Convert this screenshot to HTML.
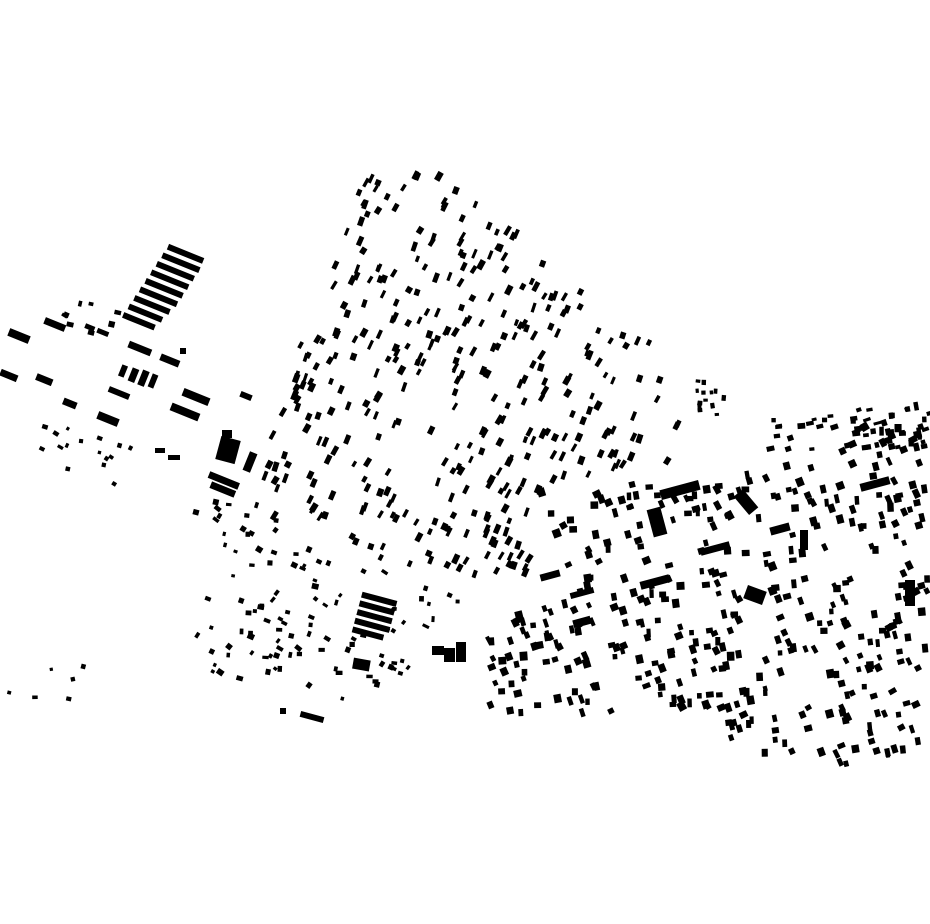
<!DOCTYPE html>
<html><head><meta charset="utf-8"><style>html,body{margin:0;padding:0;background:#fff}svg{display:block}</style></head>
<body>
<svg id="s" width="930" height="924" viewBox="0 0 930 924" xmlns="http://www.w3.org/2000/svg">
<g fill="#000">
<!-- big bar stack NW -->
<g transform="rotate(22 170 295)">
<rect x="150" y="248" width="38" height="6"/><rect x="148" y="258" width="40" height="6"/><rect x="146" y="268" width="40" height="6"/><rect x="144" y="278" width="40" height="6"/><rect x="142" y="288" width="40" height="6"/><rect x="140" y="298" width="40" height="6"/><rect x="138" y="308" width="38" height="6"/><rect x="136" y="318" width="36" height="6"/><rect x="134" y="328" width="34" height="6"/>
</g>
<rect x="8" y="332" width="22" height="8" transform="rotate(22 19 336)"/>
<rect x="44" y="321" width="22" height="7" transform="rotate(22 55 324)"/>
<rect x="85" y="325" width="10" height="5" transform="rotate(22 90 327)"/>
<rect x="97" y="330" width="12" height="5" transform="rotate(22 103 332)"/>
<rect x="0" y="372" width="18" height="7" transform="rotate(22 9 375)"/>
<rect x="36" y="376" width="17" height="7" transform="rotate(22 44 379)"/>
<rect x="63" y="400" width="14" height="7" transform="rotate(22 70 403)"/>
<rect x="97" y="415" width="22" height="8" transform="rotate(22 108 419)"/>
<rect x="128" y="345" width="24" height="7" transform="rotate(22 140 348)"/>
<rect x="160" y="357" width="20" height="7" transform="rotate(22 170 360)"/>
<rect x="120" y="365" width="6" height="12" transform="rotate(22 123 371)"/>
<rect x="130" y="368" width="7" height="14" transform="rotate(22 133 375)"/>
<rect x="140" y="370" width="7" height="16" transform="rotate(22 143 378)"/>
<rect x="150" y="374" width="6" height="14" transform="rotate(22 153 381)"/>
<rect x="108" y="390" width="22" height="6" transform="rotate(22 119 393)"/>
<rect x="170" y="408" width="30" height="8" transform="rotate(22 185 412)"/>
<rect x="182" y="393" width="28" height="8" transform="rotate(22 196 397)"/>
<rect x="218" y="438" width="20" height="24" transform="rotate(15 228 450)"/>
<rect x="222" y="430" width="10" height="8"/>
<rect x="208" y="477" width="32" height="7" transform="rotate(22 224 480)"/>
<rect x="210" y="486" width="26" height="7" transform="rotate(22 223 489)"/>
<rect x="246" y="452" width="8" height="20" transform="rotate(22 250 462)"/>
<rect x="240" y="393" width="12" height="6" transform="rotate(22 246 396)"/>
<rect x="180" y="348" width="6" height="6"/>
<rect x="155" y="448" width="10" height="5"/><rect x="168" y="455" width="12" height="5"/>
<!-- south bars -->
<g transform="rotate(15 376 615)">
<rect x="357" y="596" width="36" height="6"/><rect x="357" y="605" width="36" height="6"/><rect x="357" y="614" width="36" height="6"/><rect x="357" y="623" width="36" height="6"/><rect x="357" y="632" width="32" height="6"/>
</g>
<rect x="432" y="646" width="12" height="9"/><rect x="444" y="648" width="11" height="14"/><rect x="456" y="642" width="10" height="20"/>
<rect x="353" y="659" width="17" height="11" transform="rotate(10 361 664)"/>
<rect x="300" y="714" width="24" height="6" transform="rotate(15 312 717)"/>
<rect x="280" y="708" width="6" height="6"/>
<!-- road buildings -->
<rect x="570" y="590" width="24" height="6" transform="rotate(-15 582 593)"/>
<rect x="573" y="618" width="18" height="8" transform="rotate(-15 582 622)"/>
<rect x="650" y="508" width="14" height="28" transform="rotate(-15 657 522)"/>
<rect x="660" y="485" width="40" height="10" transform="rotate(-15 680 490)"/>
<rect x="745" y="588" width="20" height="14" transform="rotate(20 755 595)"/>
<rect x="740" y="490" width="12" height="24" transform="rotate(-40 746 502)"/>
<rect x="770" y="525" width="20" height="8" transform="rotate(-15 780 529)"/>
<rect x="800" y="530" width="8" height="20"/>
<rect x="905" y="580" width="10" height="26"/>
<rect x="640" y="578" width="30" height="8" transform="rotate(-15 655 582)"/>
<rect x="860" y="480" width="30" height="8" transform="rotate(-15 875 484)"/>
<rect x="700" y="545" width="30" height="7" transform="rotate(-15 715 548)"/>
<rect x="540" y="572" width="20" height="7" transform="rotate(-15 550 575)"/>
</g>
<g id="gen" fill="#000"></g>
</svg>
<script>
(function(){
var seed=12345;function r(){seed=(seed*1103515245+12345)&0x7fffffff;return seed/0x7fffffff;}
function inside(p,x,y){var c=false;for(var i=0,j=p.length-1;i<p.length;j=i++){var xi=p[i][0],yi=p[i][1],xj=p[j][0],yj=p[j][1];if(((yi>y)!=(yj>y))&&(x<(xj-xi)*(y-yi)/(yj-yi)+xi))c=!c;}return c;}
var g=document.getElementById('gen'),ns='http://www.w3.org/2000/svg',out='';
function region(p,n,wmin,wmax,hmin,hmax,rot,rotv){
 var xs=p.map(function(a){return a[0]}),ys=p.map(function(a){return a[1]});
 var x0=Math.min.apply(0,xs),x1=Math.max.apply(0,xs),y0=Math.min.apply(0,ys),y1=Math.max.apply(0,ys);
 var k=0,t=0;while(k<n&&t<n*50){t++;var x=x0+r()*(x1-x0),y=y0+r()*(y1-y0);if(!inside(p,x,y))continue;k++;
 var w=wmin+r()*(wmax-wmin),h=hmin+r()*(hmax-hmin),a=rot+(r()-0.5)*rotv;
 out+='<rect x="'+(x-w/2).toFixed(1)+'" y="'+(y-h/2).toFixed(1)+'" width="'+w.toFixed(1)+'" height="'+h.toFixed(1)+'" transform="rotate('+a.toFixed(1)+' '+x.toFixed(1)+' '+y.toFixed(1)+')"/>';}
}
// northern grid
region([[385,158],[460,182],[540,255],[610,310],[680,360],[680,460],[600,470],[540,500],[530,580],[470,578],[400,565],[330,545],[270,520],[262,470],[280,400],[295,350],[320,290],[340,230],[360,185]],360,3,6,6,10,25,15);
// east district
region([[540,490],[650,480],[760,470],[850,430],[925,400],[928,560],[925,700],[915,760],[840,765],[740,760],[700,705],[600,715],[490,712],[488,625],[540,600],[560,560]],420,4,8,5,9,-15,30);
// NE small cluster
region([[695,375],[725,380],[730,420],[700,415]],14,3,5,3,6,0,20);
region([[770,420],[930,400],[930,450],[770,450]],45,4,8,3,6,-10,20);
// southwest sparse
region([[175,495],[250,500],[340,560],[430,580],[470,610],[430,640],[400,690],[340,700],[250,680],[190,670],[190,620],[240,560]],110,3,7,3,6,20,40);
// west sparse
region([[0,660],[90,660],[90,700],[0,700]],6,3,6,3,5,0,30);
region([[20,420],[140,440],[130,500],[50,460]],16,3,6,3,5,20,30);
region([[60,300],[130,290],[120,330],[70,340]],8,3,7,3,6,22,20);
g.innerHTML=out;
})();
</script>
</body></html>
